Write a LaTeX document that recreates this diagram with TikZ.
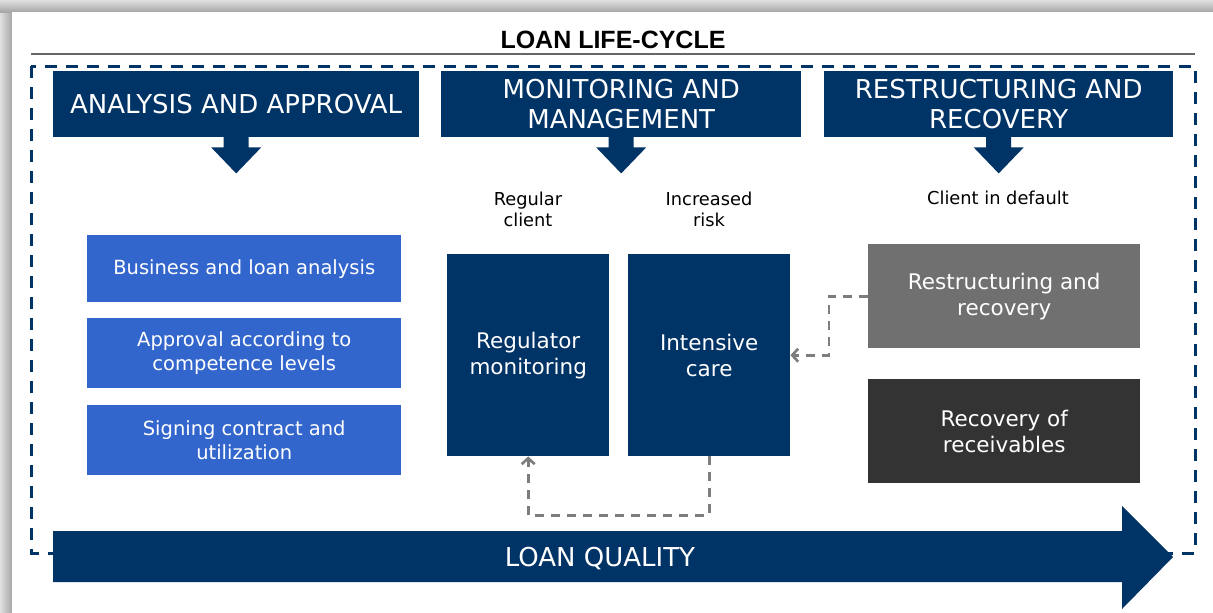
\documentclass[tikz,border=0pt]{standalone}
\usepackage{fontspec}
\setmainfont{DejaVu Sans}
\newfontfamily\titlefont{Liberation Sans}
\usetikzlibrary{positioning,arrows.meta}
\definecolor{navy}{RGB}{0,51,102}
\definecolor{midblue}{RGB}{51,102,204}
\definecolor{stonegray}{RGB}{112,112,112}
\definecolor{coalgray}{RGB}{51,51,51}
\definecolor{linkgray}{RGB}{125,125,125}
\begin{document}
\begin{tikzpicture}[x=1pt,y=-1pt,
  headbox/.style={fill=navy,text=white,inner sep=0pt,align=center,anchor=north west,
    minimum height=66pt,font=\fontsize{26}{30}\selectfont},
  stepbox/.style={fill=midblue,text=white,inner sep=0pt,align=center,anchor=north west,
    minimum width=314pt,font=\fontsize{19.5}{24}\selectfont},
  phasebox/.style={fill=navy,text=white,inner sep=0pt,align=center,anchor=north west,
    minimum width=162pt,minimum height=202pt,font=\fontsize{21.5}{26}\selectfont},
  casebox/.style={text=white,inner sep=0pt,align=center,anchor=north west,
    minimum width=272pt,minimum height=104pt,font=\fontsize{21.5}{26}\selectfont},
  caption/.style={align=center,font=\fontsize{17.8}{21}\selectfont},
  link/.style={draw=linkgray,line width=2.6pt,dash pattern=on 9pt off 7pt,
    -{Straight Barb[length=6pt,width=13pt]}}]
 % page with shadow
 \useasboundingbox (0,0) rectangle (1213,613);
 \fill[left color=gray!25,right color=gray!70] (0,0) rectangle (12,613);
 \fill[top color=gray!25,bottom color=gray!70] (0,0) rectangle (1213,12);
 \fill[white] (12,12) rectangle (1213,613);
 % title
 \node[font=\titlefont\bfseries\fontsize{25}{28}\selectfont] (title) at (613,40) {LOAN LIFE-CYCLE};
 \draw[gray!80!black,line width=1.6pt] (31,54) -- (1195,54);
 \draw[navy,line width=3pt,dash pattern=on 12pt off 9pt] (31,66) rectangle (1195,553);
 % phase headers
 \node[headbox,minimum width=366pt] (hA) at (53,71) {ANALYSIS AND APPROVAL};
 \node[headbox,minimum width=360pt] (hB) at (441,71) {MONITORING AND\\MANAGEMENT};
 \node[headbox,minimum width=349pt] (hC) at (824,71) {RESTRUCTURING AND\\RECOVERY};
 \foreach \h in {hA,hB,hC}
  \fill[navy] (\h.south) ++(-12.5,-1) -- ++(0,11) -- ++(-12.5,0) -- ++(25,26)
   -- ++(25,-26) -- ++(-12.5,0) -- ++(0,-11) -- cycle;
 % analysis and approval
 \node[stepbox,minimum height=67pt] (bizan) at (87,235) {Business and loan analysis};
 \node[stepbox,minimum height=70pt] (apprv) at (87,318) {Approval according to\\competence levels};
 \node[stepbox,minimum height=70pt] (signc) at (87,405) {Signing contract and\\utilization};
 % monitoring
 \node[caption] (regcap) at (528,209) {Regular\\client};
 \node[caption] (riskcap) at (709,209) {Increased\\risk};
 \node[phasebox] (reg) at (447,254) {Regulator\\monitoring};
 \node[phasebox] (care) at (628,254) {Intensive\\care};
 % restructuring
 \node[caption] (defcap) at (998,198) {Client in default};
 \node[casebox,fill=stonegray] (restr) at (868,244) {Restructuring and\\recovery};
 \node[casebox,fill=coalgray] (recv) at (868,379) {Recovery of\\receivables};
 % feedback links
 \draw[link] (restr.west) -- ++(-39,0) |- (care.east);
 \draw[link] (care.south) -- ++(0,59) -| (reg.south);
 % quality arrow
 \fill[navy] (53,531) -- (1122,531) -- (1122,506) -- (1173,557) -- (1122,609)
  -- (1122,582) -- (53,582) -- cycle;
 \node[text=white,font=\fontsize{26}{30}\selectfont] (quality) at (600,559) {LOAN QUALITY};
\end{tikzpicture}
\end{document}
